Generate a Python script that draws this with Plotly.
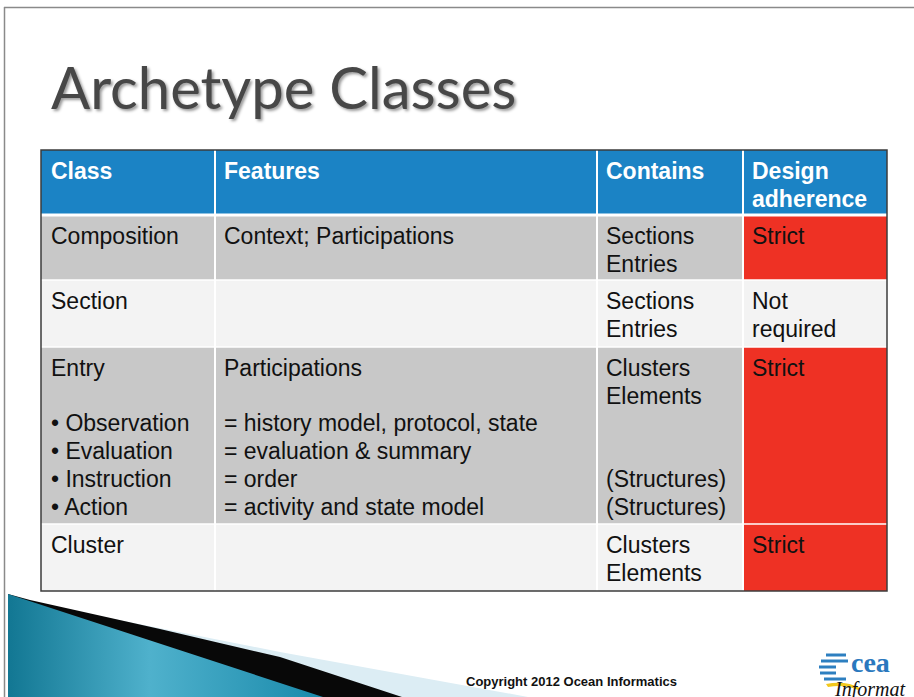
import plotly.graph_objects as go

# ---------------- data ----------------
title_text = "Archetype Classes"
header = [["Class"], ["Features"], ["Contains"], ["Design", "adherence"]]
class_col = [["Composition"], ["Section"],
             ["Entry", "", "• Observation", "• Evaluation", "• Instruction", "• Action"],
             ["Cluster"]]
features_col = [["Context; Participations"], [""],
                ["Participations", "", "= history model, protocol, state",
                 "= evaluation & summary", "= order", "= activity and state model"],
                [""]]
contains_col = [["Sections", "Entries"], ["Sections", "Entries"],
                ["Clusters", "Elements", "", "", "(Structures)", "(Structures)"],
                ["Clusters", "Elements"]]
adherence_col = [["Strict"], ["Not", "required"], ["Strict"], ["Strict"]]
copyright_text = "Copyright 2012 Ocean Informatics"

# ---------------- layout constants ----------------
W, H = 914, 697
COL_X = [41, 215, 597, 743, 887]
ROW_Y = [150, 215, 280, 347, 524, 591]
LINE_H = 27.7
FIRST = 21
PAD = 7
FONT = "Liberation Sans, Arial, sans-serif"
FS = 23

HEAD_BG = "#1b83c5"
ROW_BG = ["#c8c8c8", "#f3f3f3"]
STRICT_BG = "#ee3124"
TXT = "#111111"

fig = go.Figure()
shapes = []
ann = []

# ---------------- bottom-left decoration ----------------
shapes.append(dict(type="path", xref="x", yref="y",
                   path="M 38,604 L 280,652 L 528,697 L 8,697 Z",
                   fillcolor="#dcedf4", line=dict(width=0), layer="below"))
shapes.append(dict(type="path", xref="x", yref="y",
                   path="M 30,600 L 160,629 L 280,657 L 402,697 L 8,697 L 8,594 Z",
                   fillcolor="#080808", line=dict(width=0), layer="below"))
fig.add_trace(go.Scatter(
    x=[8, 8, 323, 8], y=[594, 697, 697, 594], mode="lines", fill="toself",
    line=dict(width=0), hoverinfo="skip", showlegend=False,
    fillgradient=dict(type="horizontal",
                      colorscale=[[0, "#127793"], [0.45, "#4fb1cc"], [1, "#1a8aab"]])))

# ---------------- slide border ----------------
shapes.append(dict(type="line", xref="x", yref="y", x0=4.5, x1=4.5, y0=7, y1=H,
                   line=dict(color="#8a8a8a", width=1.5)))
shapes.append(dict(type="line", xref="x", yref="y", x0=4, x1=W, y0=7.5, y1=7.5,
                   line=dict(color="#8a8a8a", width=1.5)))

# ---------------- title ----------------
ann.append(dict(x=49, y=86, xref="x", yref="y", xanchor="left", yanchor="middle",
                text=title_text, showarrow=False,
                font=dict(family="Lato, Open Sans, sans-serif", size=58, color="#474747",
                          shadow="2px 2px 3px #9a9a9a")))

# ---------------- table ----------------
body_cols = [class_col, features_col, contains_col, adherence_col]
n_rows = len(class_col)

for c in range(4):
    shapes.append(dict(type="rect", xref="x", yref="y", x0=COL_X[c], x1=COL_X[c + 1],
                       y0=ROW_Y[0], y1=ROW_Y[1], fillcolor=HEAD_BG, line=dict(width=0)))
    for r in range(n_rows):
        fill = ROW_BG[r % 2]
        if c == 3 and body_cols[c][r][0] == "Strict":
            fill = STRICT_BG
        shapes.append(dict(type="rect", xref="x", yref="y", x0=COL_X[c], x1=COL_X[c + 1],
                           y0=ROW_Y[r + 1], y1=ROW_Y[r + 2], fillcolor=fill, line=dict(width=0)))

for xv in COL_X[1:-1]:
    shapes.append(dict(type="line", xref="x", yref="y", x0=xv, x1=xv, y0=ROW_Y[0], y1=ROW_Y[-1],
                       line=dict(color="#ffffff", width=2)))
for i, yv in enumerate(ROW_Y[1:-1]):
    shapes.append(dict(type="line", xref="x", yref="y", x0=COL_X[0], x1=COL_X[-1], y0=yv, y1=yv,
                       line=dict(color="#ffffff", width=3 if i == 0 else 1.5)))
shapes.append(dict(type="rect", xref="x", yref="y", x0=COL_X[0], x1=COL_X[-1],
                   y0=ROW_Y[0], y1=ROW_Y[-1], line=dict(color="#3c3c3c", width=1.5)))


def add_lines(lines, c, top, bold=False, color=TXT):
    for i, t in enumerate(lines):
        if not t:
            continue
        txt = "<b>" + t + "</b>" if bold else t
        ann.append(dict(x=COL_X[c] + PAD + (1 if c == 0 else 0), y=top + FIRST + i * LINE_H,
                        xref="x", yref="y", xanchor="left", yanchor="middle", text=txt,
                        showarrow=False, font=dict(family=FONT, size=FS, color=color)))


for c in range(4):
    add_lines(header[c], c, ROW_Y[0], bold=True, color="#ffffff")
    for r in range(n_rows):
        add_lines(body_cols[c][r], c, ROW_Y[r + 1])

# ---------------- footer ----------------
ann.append(dict(x=571, y=681, xref="x", yref="y", xanchor="center", yanchor="middle",
                text="<b>" + copyright_text + "</b>", showarrow=False,
                font=dict(family="Liberation Sans Narrow, Arial Narrow, Liberation Sans, sans-serif",
                          size=13, color="#111111")))

# logo (approximation, cut by the right edge as in the slide)
for ya, xa, xb in [(655, 826, 846), (661, 821, 848), (667, 819, 836),
                   (673, 820, 836), (679, 824, 846)]:
    shapes.append(dict(type="line", xref="x", yref="y", x0=xa, x1=xb, y0=ya, y1=ya,
                       line=dict(color="#2d7fc0", width=3)))
shapes.append(dict(type="path", xref="x", yref="y",
                   path="M 826,684 Q 845,680 860,688 L 858,690 Q 845,684 828,687 Z",
                   fillcolor="#f2c81d", line=dict(width=0)))
ann.append(dict(x=850, y=662, xref="x", yref="y", xanchor="left", yanchor="middle",
                text="<b>cea</b>", showarrow=False, borderpad=0,
                font=dict(family="Liberation Serif, serif", size=28, color="#2a78be")))
ann.append(dict(x=833, y=689, xref="x", yref="y", xanchor="left", yanchor="middle",
                text="<i>Informat</i>", showarrow=False, borderpad=0,
                font=dict(family="Liberation Serif, serif", size=20, color="#111111")))

fig.update_layout(
    width=W, height=H, margin=dict(l=0, r=0, t=0, b=0),
    paper_bgcolor="#ffffff", plot_bgcolor="#ffffff",
    xaxis=dict(range=[0, W], visible=False, fixedrange=True),
    yaxis=dict(range=[H, 0], visible=False, fixedrange=True),
    shapes=shapes, annotations=ann, showlegend=False,
)

fig.write_html("out.html", config={"displayModeBar": False},
               post_script="document.body.style.margin='0';document.body.style.overflow='hidden';")
